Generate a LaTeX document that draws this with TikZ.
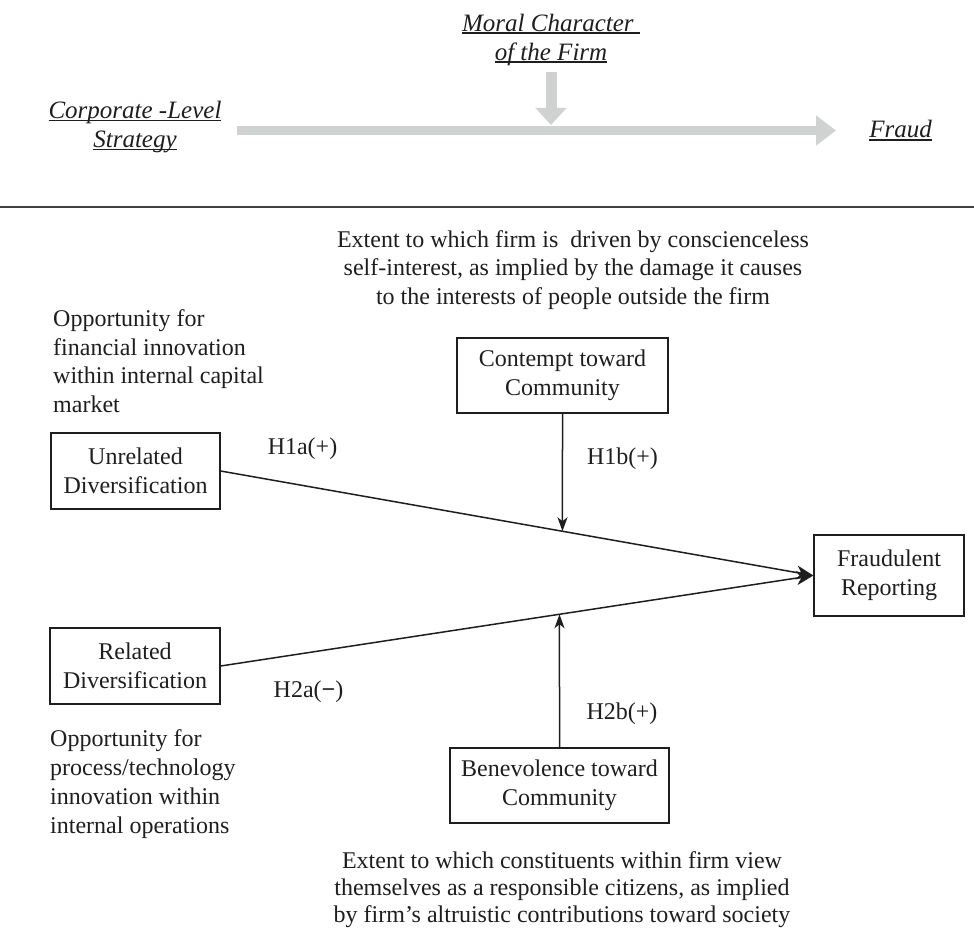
\documentclass[tikz,border=0pt]{standalone}
\usepackage{fontspec}
\setmainfont{Liberation Serif}
\usetikzlibrary{arrows.meta,calc}
\definecolor{lgray}{RGB}{208,210,210}
\definecolor{ink}{RGB}{30,30,30}
\newcommand\myund[1]{\setbox0\hbox{#1}\rlap{\rule[-3.0pt]{\wd0}{1.7pt}}\box0}
\begin{document}
\begin{tikzpicture}[x=1pt,y=-1pt,
  txt/.style={font=\fontsize{24}{28.5}\selectfont, inner sep=0pt, text=ink},
  ital/.style={font=\fontsize{25}{29}\selectfont\itshape, inner sep=0pt, align=center, text=ink},
  box/.style={draw=ink, line width=1.3pt, align=center, inner sep=0pt, font=\fontsize{24}{29}\selectfont, text=ink},
  conn/.style={draw=ink, line width=1.5pt},
  mainarr/.style={conn, -{Stealth[length=17pt,width=14pt,inset=5pt]}},
  modarr/.style={conn, -{Stealth[length=14pt,width=10pt,inset=4pt]}},
  garrow/.style={draw=lgray, line width=9.5pt}
]
\useasboundingbox (0,0) rectangle (974,933);

% ---- top panel ----
\node[ital] (moral) at (551,39.5) {\myund{Moral Character\ }\\\myund{of the Firm}};
\node[ital] (corp) at (135,127) {\myund{Corporate -Level}\\\myund{Strategy}};
\node[ital] (fraud) at (900.5,130.5) {\myund{Fraud}};

\coordinate (gc) at (551,72);
\coordinate (gd) at (551,125);
\draw[garrow, line width=11pt, -{Triangle[length=17pt,width=30pt]}] (gc) -- (gd);
\coordinate (ga) at (237,130.5);
\coordinate (gb) at (836,130.5);
\draw[garrow, -{Triangle[length=20pt,width=29pt]}] (ga) -- (gb);

\coordinate (sl) at (0,207);
\coordinate (sr) at (974,207);
\draw[line width=2pt, black!75] (sl) -- (sr);

% ---- bottom panel ----
\node[txt, align=center] (topnote) at (573,270)
  {Extent to which firm is\ \ driven by conscienceless\\self-interest, as implied by the damage it causes\\to the interests of people outside the firm};
\node[txt, align=left, anchor=west] (opp1) at (53,361)
  {Opportunity for\\financial innovation\\within internal capital\\market};
\node[txt, align=left, anchor=west, font=\fontsize{24}{29}\selectfont] (opp2) at (50,784)
  {Opportunity for\\process/technology\\innovation within\\internal operations};
\node[txt, align=center, font=\fontsize{24}{27}\selectfont] (botnote) at (562,889.5)
  {Extent to which constituents within firm view\\themselves as a responsible citizens, as implied\\by firm’s altruistic contributions toward society};

\node[box, minimum width=169pt, minimum height=76pt] (unrel) at (135.5,471) {Unrelated\\Diversification};
\node[box, minimum width=211pt, minimum height=75pt] (cont) at (562.5,375.5) {Contempt toward\\Community};
\node[box, minimum width=150pt, minimum height=81pt] (fr) at (889,575.5) {Fraudulent\\Reporting};
\node[box, minimum width=170pt, minimum height=76pt] (rel) at (135,666) {Related\\Diversification};
\node[box, minimum width=219pt, minimum height=75pt] (bene) at (559.5,785.5) {Benevolence toward\\Community};

\draw[mainarr] (unrel.east) -- (fr.west);
\draw[mainarr] (rel.east) -- (fr.west);

\coordinate (cfoot) at ($(cont.south)+(0,300)$);
\coordinate (m1) at (intersection of cont.south--cfoot and unrel.east--fr.west);
\coordinate (bhead) at ($(bene.north)+(0,-300)$);
\coordinate (m2) at (intersection of bene.north--bhead and rel.east--fr.west);
\draw[modarr] (cont.south) -- (m1);
\draw[modarr] (bene.north) -- (m2);

\node[txt] (h1a) at (302.5,449) {H1a(+)};
\node[txt] (h1b) at (622.5,459) {H1b(+)};
\node[txt] (h2a) at (308.5,692) {H2a(\textbf{−})};
\node[txt] (h2b) at (622,714) {H2b(+)};
\end{tikzpicture}
\end{document}
